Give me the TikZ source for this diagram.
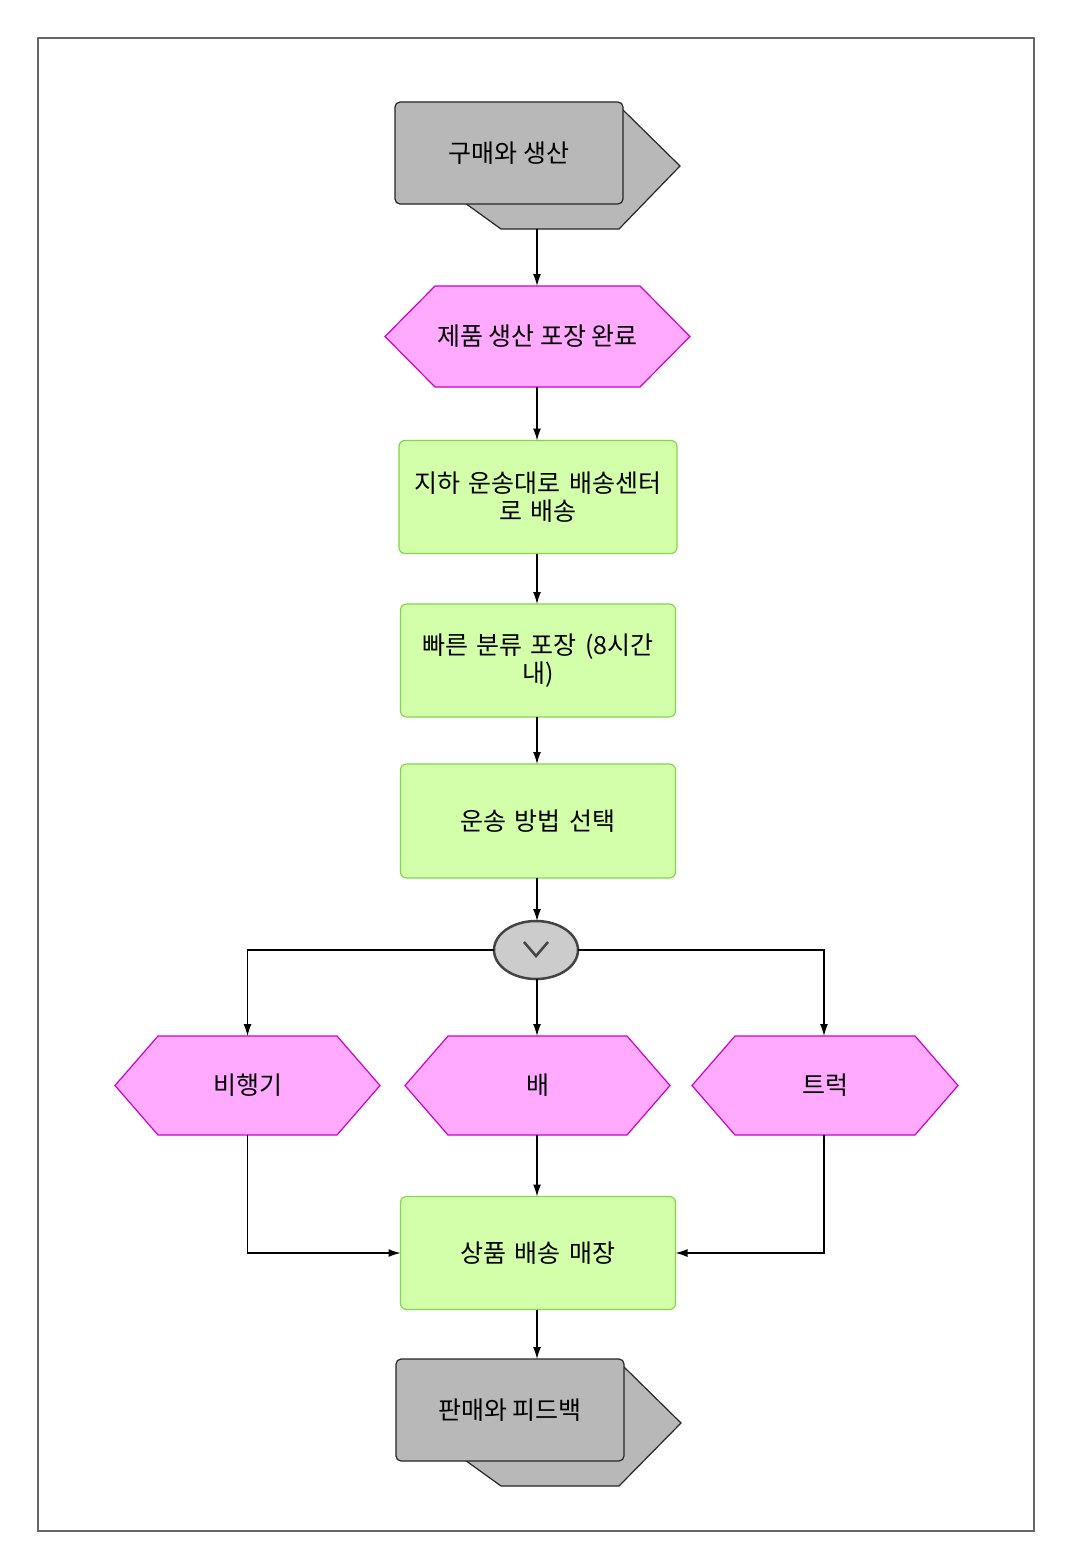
\documentclass[tikz,border=0pt]{standalone}
\usepackage{fontspec}
\setmainfont{Noto Sans CJK KR}
\usetikzlibrary{shapes.geometric,backgrounds,arrows.meta,calc}
\definecolor{pinkfill}{HTML}{FFAAFF}
\definecolor{pinkline}{HTML}{CC00CC}
\definecolor{greenfill}{HTML}{D4FFAA}
\definecolor{greenline}{HTML}{82D64C}
\definecolor{grayfill}{HTML}{B8B8B8}
\definecolor{gwfill}{HTML}{CCCCCC}
\definecolor{gwline}{HTML}{444444}
\definecolor{framec}{HTML}{666666}
\tikzset{
  txt/.style={font=\fontsize{25}{31}\selectfont, text=black, align=center, inner sep=0pt, outer sep=0pt},
  hexbox/.style={txt, minimum width=#1, minimum height=99},
  hexfill/.style={fill=pinkfill, draw=pinkline, line width=1.2pt},
  task/.style={txt, draw=greenline, fill=greenfill, line width=1.2pt, rounded corners=6pt, minimum width=275, minimum height=113, text width=262},
  stackfront/.style={txt, draw=black!85, fill=grayfill, line width=1.2pt, rounded corners=5pt, minimum width=228, minimum height=102},
  stackback/.style={fill=grayfill, draw=black!85, line width=1.2pt, line join=miter},
  gw/.style={ellipse, draw=gwline, fill=gwfill, line width=2.5pt, minimum width=84, minimum height=58, inner sep=0pt, outer sep=0pt},
  arr/.style={draw=black, line width=1.2pt, -{Latex[length=12pt,width=8pt]}},
}
\begin{document}
\begin{tikzpicture}[x=1pt,y=-1pt]
\useasboundingbox (0,0) rectangle (1071,1568);
\begin{scope}[on background layer]
\fill[white] (0,0) rectangle (1071,1568);
\end{scope}
\draw[framec, line width=2.5pt] (38,38) rectangle (1034,1531);

% top stacked shape
\draw[stackback] (440,185) -- (501,229) -- (619,229) -- (680,166) -- (620,107) -- (500,107) -- cycle;
\coordinate (startb) at (537,229);
\node[stackfront] (start) at (509,153) {구매와 생산};

% hexagon 1
\node[hexbox=305, minimum height=101] (h1) at (537.5,336.5) {제품 생산 포장 완료};

\node[task, minimum width=278] (t1) at (538,497) {지하 운송대로 배송센터\\[-3pt]로 배송};
\node[task] (t2) at (538,660.5) {빠른 분류 포장 (8시간\\[-3pt]내)};
\node[task, minimum height=114] (t3) at (538,821) {운송 방법 선택};

% gateway
\node[gw] (g) at (536,950) {};
\draw[gwline, line width=2.5pt] ($(g.center)+(-12,-8)$) -- ($(g.center)+(0,6)$) -- ($(g.center)+(12,-8)$);

% three hexagons
\node[hexbox=265] (b1) at (247.5,1085.5) {비행기};
\node[hexbox=265] (b2) at (537.5,1085.5) {배};
\node[hexbox=266] (b3) at (825,1085.5) {트럭};

\begin{scope}[on background layer]
\draw[hexfill] (h1.west) -- ([xshift=50pt]h1.north west) -- ([xshift=-50pt]h1.north east) -- (h1.east) -- ([xshift=-50pt]h1.south east) -- ([xshift=50pt]h1.south west) -- cycle;
\foreach \n in {b1,b2,b3}{
\draw[hexfill] (\n.west) -- ([xshift=43pt]\n.north west) -- ([xshift=-43pt]\n.north east) -- (\n.east) -- ([xshift=-43pt]\n.south east) -- ([xshift=43pt]\n.south west) -- cycle;
}
\end{scope}

\node[task] (t4) at (538,1253) {상품 배송 매장};

% bottom stacked shape
\draw[stackback] (440,1442) -- (501,1486) -- (619,1486) -- (681,1423) -- (621,1364) -- (500,1364) -- cycle;
\node[stackfront] (end) at (510,1410) {판매와 피드백};

% connectors
\draw[arr] (startb) -- (h1.north -| startb);
\draw[arr] (h1.south -| 537,0) -- (t1.north -| 537,0);
\draw[arr] (t1.south -| 537,0) -- (t2.north -| 537,0);
\draw[arr] (t2.south -| 537,0) -- (t3.north -| 537,0);
\draw[arr] (t3.south -| 537,0) -- (g.north -| 537,0);
\draw[arr] (g.west) -| (b1.north);
\draw[arr] (g.east) -| (b3.north -| 824,0);
\draw[arr] (g.south -| 537,0) -- (b2.north -| 537,0);
\draw[arr] (b2.south -| 537,0) -- (t4.north -| 537,0);
\draw[arr] (b1.south) |- (t4.west);
\draw[arr] (b3.south -| 824,0) |- (t4.east);
\draw[arr] (t4.south -| 537,0) -- (end.north -| 537,0);
\end{tikzpicture}
\end{document}
